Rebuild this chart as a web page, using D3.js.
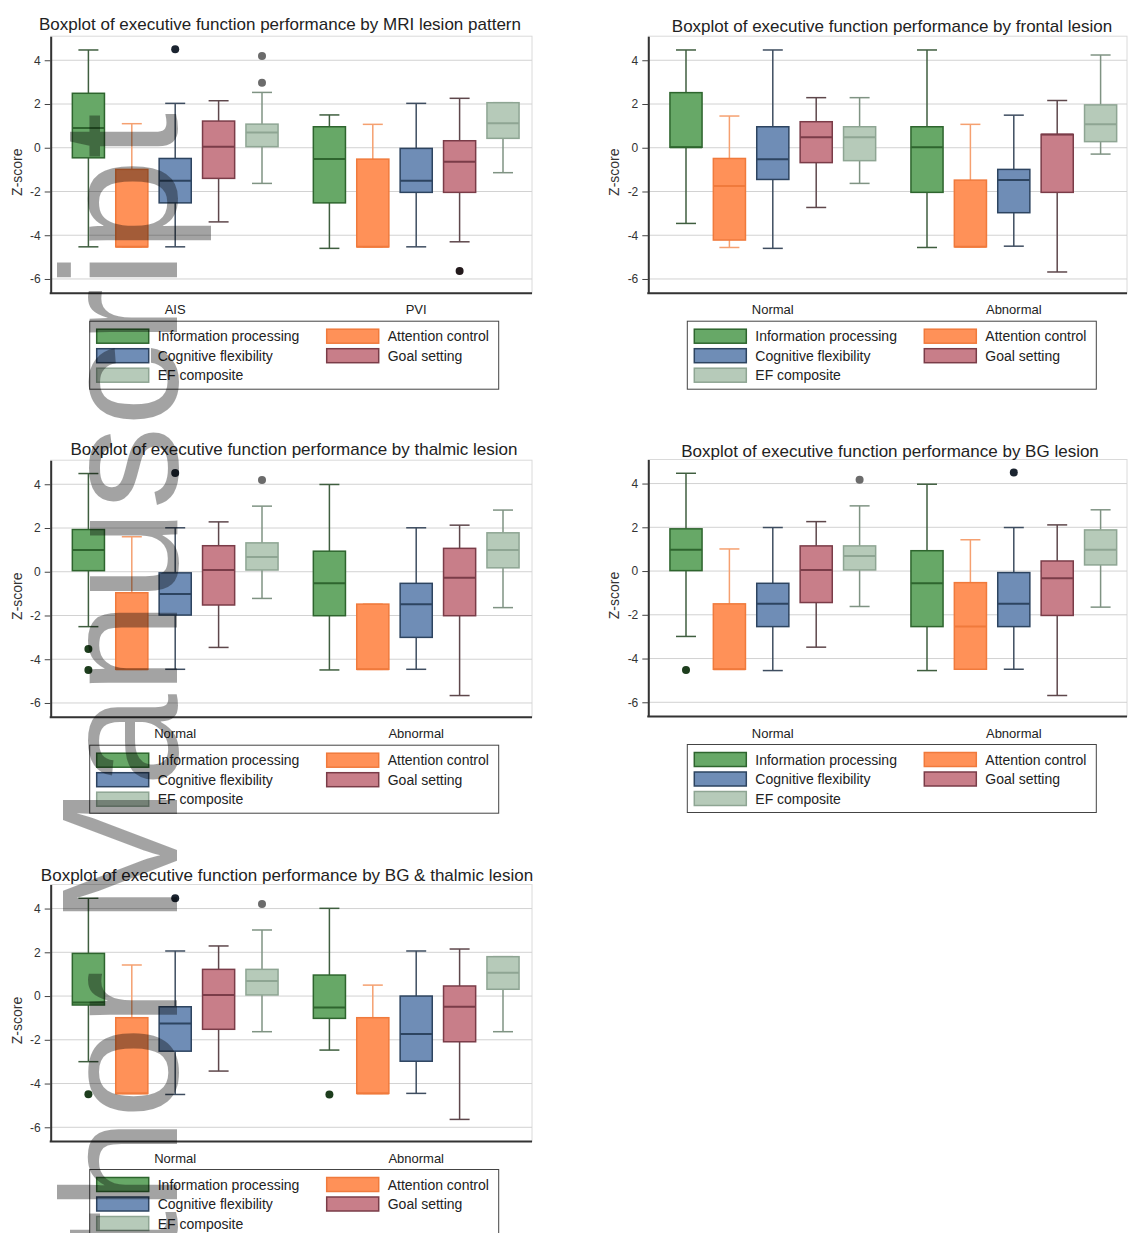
<!DOCTYPE html>
<html lang="en">
<head>
  <meta charset="UTF-8" />
  <title>Boxplots of executive function performance</title>
  <script src="https://d3js.org/d3.v7.min.js"></script>
  <style>
    body { margin: 0; background: #fff; }
    svg { display: block; font-family: "Liberation Sans", Arial, sans-serif; }
  </style>
</head>
<body>
  <script>
    // EF domains (legend order)
    const seriesNames = ["Information processing", "Attention control", "Cognitive flexibility", "Goal setting", "EF composite"];
    const yTicks = [-6, -4, -2, 0, 2, 4];

    // each box row: [category, series index, lower whisker, Q1, median, Q3, upper whisker]
    const mriCats = ["AIS", "PVI"];
    const mriBoxes = [
      ["AIS", 0, -4.53, -0.46, 0.90, 2.49, 4.47],
      ["AIS", 1, -4.53, -4.53, -4.53, -0.99, 1.10],
      ["AIS", 2, -4.53, -2.52, -1.51, -0.49, 2.03],
      ["AIS", 3, -3.39, -1.40, 0.05, 1.22, 2.15],
      ["AIS", 4, -1.63, 0.05, 0.70, 1.08, 2.53],
      ["PVI", 0, -4.60, -2.52, -0.52, 0.96, 1.50],
      ["PVI", 1, -4.53, -4.53, -4.53, -0.52, 1.07],
      ["PVI", 2, -4.53, -2.04, -1.51, -0.03, 2.03],
      ["PVI", 3, -4.30, -2.04, -0.64, 0.32, 2.26],
      ["PVI", 4, -1.14, 0.43, 1.12, 2.06, 2.06]
    ];
    const mriOutliers = [["AIS", 2, 4.50], ["AIS", 4, 4.20], ["AIS", 4, 2.97], ["PVI", 3, -5.64]];

    const frontalCats = ["Normal", "Abnormal"];
    const frontalBoxes = [
      ["Normal", 0, -3.46, 0.02, 0.02, 2.52, 4.47],
      ["Normal", 1, -4.56, -4.22, -1.75, -0.49, 1.45],
      ["Normal", 2, -4.60, -1.45, -0.53, 0.96, 4.47],
      ["Normal", 3, -2.73, -0.68, 0.48, 1.19, 2.29],
      ["Normal", 4, -1.63, -0.59, 0.48, 0.96, 2.29],
      ["Abnormal", 0, -4.56, -2.04, 0.02, 0.96, 4.47],
      ["Abnormal", 1, -4.53, -4.53, -4.53, -1.48, 1.07],
      ["Abnormal", 2, -4.50, -2.97, -1.48, -0.99, 1.49],
      ["Abnormal", 3, -5.68, -2.04, 0.61, 0.61, 2.16],
      ["Abnormal", 4, -0.29, 0.28, 1.07, 1.96, 4.24]
    ];
    const frontalOutliers = [];

    const thalCats = ["Normal", "Abnormal"];
    const thalBoxes = [
      ["Normal", 0, -2.51, 0.05, 0.99, 1.93, 4.49],
      ["Normal", 1, -4.46, -4.46, -4.46, -0.96, 1.60],
      ["Normal", 2, -4.46, -1.98, -1.02, -0.05, 2.01],
      ["Normal", 3, -3.46, -1.52, 0.08, 1.19, 2.28],
      ["Normal", 4, -1.22, 0.08, 0.68, 1.32, 3.00],
      ["Abnormal", 0, -4.49, -2.01, -0.53, 0.94, 3.99],
      ["Abnormal", 1, -4.46, -4.46, -4.46, -1.48, -1.48],
      ["Abnormal", 2, -4.46, -3.00, -1.49, -0.53, 2.01],
      ["Abnormal", 3, -5.66, -2.01, -0.27, 1.07, 2.13],
      ["Abnormal", 4, -1.64, 0.18, 0.99, 1.78, 2.82]
    ];
    const thalOutliers = [["Normal", 0, -3.53], ["Normal", 0, -4.49], ["Normal", 2, 4.52], ["Normal", 4, 4.19]];

    const bgCats = ["Normal", "Abnormal"];
    const bgBoxes = [
      ["Normal", 0, -2.99, 0.02, 0.97, 1.93, 4.47],
      ["Normal", 1, -4.49, -4.49, -4.49, -1.50, 1.01],
      ["Normal", 2, -4.55, -2.54, -1.50, -0.56, 1.99],
      ["Normal", 3, -3.48, -1.44, 0.05, 1.15, 2.26],
      ["Normal", 4, -1.62, 0.05, 0.69, 1.15, 2.98],
      ["Abnormal", 0, -4.55, -2.54, -0.56, 0.93, 3.97],
      ["Abnormal", 1, -4.49, -4.49, -2.54, -0.53, 1.43],
      ["Abnormal", 2, -4.49, -2.54, -1.50, -0.07, 1.99],
      ["Abnormal", 3, -5.69, -2.03, -0.33, 0.46, 2.11],
      ["Abnormal", 4, -1.65, 0.28, 0.97, 1.88, 2.80]
    ];
    const bgOutliers = [["Normal", 0, -4.52], ["Normal", 4, 4.17], ["Abnormal", 2, 4.51]];

    const bgThalCats = ["Normal", "Abnormal"];
    const bgThalBoxes = [
      ["Normal", 0, -3.00, -0.41, -0.30, 1.95, 4.47],
      ["Normal", 1, -4.45, -4.45, -4.45, -0.99, 1.42],
      ["Normal", 2, -4.50, -2.52, -1.25, -0.49, 2.06],
      ["Normal", 3, -3.43, -1.52, 0.05, 1.22, 2.29],
      ["Normal", 4, -1.63, 0.05, 0.69, 1.22, 3.02],
      ["Abnormal", 0, -2.47, -1.02, -0.52, 0.96, 4.01],
      ["Abnormal", 1, -4.45, -4.45, -4.45, -0.99, 0.50],
      ["Abnormal", 2, -4.45, -2.98, -1.74, 0.00, 2.06],
      ["Abnormal", 3, -5.64, -2.09, -0.49, 0.46, 2.15],
      ["Abnormal", 4, -1.63, 0.31, 1.07, 1.80, 1.80]
    ];
    const bgThalOutliers = [["Normal", 0, -4.49], ["Normal", 2, 4.47], ["Normal", 4, 4.21], ["Abnormal", 0, -4.50]];

    // colours per series
    const fillColors = ["#67a867", "#ff9158", "#6f8db6", "#c87e89", "#b6cab9"];
    const edgeColors = ["#2e652e", "#f07a3c", "#2d4460", "#7a3c48", "#8ea593"];
    const whiskerColors = ["#3f5e3f", "#f5a070", "#3e4d60", "#5e474b", "#7f9383"];
    const outlierColors = ["#1d3d1d", "#333333", "#1b2430", "#231a1c", "#6b6b6b"];

    const W = 1128, H = 1233;
    const plotH = 257;
    const svg = d3.select("body").append("svg")
      .attr("width", W)
      .attr("height", H);

    svg.append("rect").attr("width", W).attr("height", H).attr("fill", "#fff");

    const panels = [
      { title: "Boxplot of executive function performance by MRI lesion pattern", cats: mriCats, boxes: mriBoxes, outliers: mriOutliers,
        left: 50.7, right: 532, top: 36.2, titleX: 280, titleY: 30 },
      { title: "Boxplot of executive function performance by frontal lesion", cats: frontalCats, boxes: frontalBoxes, outliers: frontalOutliers,
        left: 648.3, right: 1127, top: 36.2, titleX: 892, titleY: 32 },
      { title: "Boxplot of executive function performance by thalmic lesion", cats: thalCats, boxes: thalBoxes, outliers: thalOutliers,
        left: 50.7, right: 532, top: 460.2, titleX: 294, titleY: 455 },
      { title: "Boxplot of executive function performance by BG lesion", cats: bgCats, boxes: bgBoxes, outliers: bgOutliers,
        left: 648.3, right: 1127, top: 459.5, titleX: 890, titleY: 457 },
      { title: "Boxplot of executive function performance by BG & thalmic lesion", cats: bgThalCats, boxes: bgThalBoxes, outliers: bgThalOutliers,
        left: 50.7, right: 532, top: 884.5, titleX: 287, titleY: 881 }
    ];

    panels.forEach(drawPanel);

    function drawPanel(p) {
      const g = svg.append("g");
      const bottom = p.top + plotH;

      const y = d3.scaleLinear().domain([-6.65, 5.1]).range([bottom, p.top]);
      const x = d3.scaleBand().domain(p.cats).range([p.left + 4, p.left + 486]).padding(0);
      const xs = d3.scaleBand().domain(d3.range(seriesNames.length))
        .range([-108.5, 108.5]).paddingInner(0.26).paddingOuter(0.13);
      const bw = xs.bandwidth();
      const cx = (cat, s) => x(cat) + x.bandwidth() / 2 + xs(s) + bw / 2;

      // frame + grid
      g.append("rect")
        .attr("x", p.left).attr("y", p.top)
        .attr("width", p.right - p.left).attr("height", plotH)
        .attr("fill", "none").attr("stroke", "#dadada");

      g.selectAll(".grid").data(yTicks).join("line")
        .attr("x1", p.left).attr("x2", p.right)
        .attr("y1", d => y(d)).attr("y2", d => y(d))
        .attr("stroke", "#d2d2d2").attr("stroke-width", 1);

      // boxes
      const box = g.selectAll(".box").data(p.boxes).join("g").attr("class", "box");
      box.each(function(d) {
        const b = d3.select(this);
        const [cat, s, lo, q1, med, q3, hi] = d;
        const c = cx(cat, s);
        const capW = 20;

        // whiskers
        if (hi > q3) {
          b.append("line").attr("x1", c).attr("x2", c).attr("y1", y(q3)).attr("y2", y(hi))
            .attr("stroke", whiskerColors[s]).attr("stroke-width", 1.5);
        }
        if (lo < q1) {
          b.append("line").attr("x1", c).attr("x2", c).attr("y1", y(q1)).attr("y2", y(lo))
            .attr("stroke", whiskerColors[s]).attr("stroke-width", 1.5);
        }
        [lo, hi].forEach(v => {
          b.append("line").attr("x1", c - capW / 2).attr("x2", c + capW / 2)
            .attr("y1", y(v)).attr("y2", y(v))
            .attr("stroke", whiskerColors[s]).attr("stroke-width", 1.5);
        });

        b.append("rect")
          .attr("x", c - bw / 2).attr("width", bw)
          .attr("y", y(q3)).attr("height", y(q1) - y(q3))
          .attr("fill", fillColors[s])
          .attr("stroke", edgeColors[s]).attr("stroke-width", 1.5);

        b.append("line").attr("x1", c - bw / 2).attr("x2", c + bw / 2)
          .attr("y1", y(med)).attr("y2", y(med))
          .attr("stroke", edgeColors[s]).attr("stroke-width", 2);
      });

      g.selectAll(".outlier").data(p.outliers).join("circle")
        .attr("cx", d => cx(d[0], d[1]))
        .attr("cy", d => y(d[2]))
        .attr("r", 4)
        .attr("fill", d => outlierColors[d[1]]);

      // y axis
      const ax = g.append("g")
        .attr("transform", `translate(${p.left},0)`)
        .call(d3.axisLeft(y).tickValues(yTicks).tickSize(6).tickSizeOuter(0).tickPadding(4).tickFormat(d => String(d)))
        .attr("font-size", 12)
        .attr("font-family", "Liberation Sans, Arial, sans-serif");
      ax.select(".domain").attr("stroke", "#333").attr("stroke-width", 2);
      ax.selectAll(".tick line").attr("stroke", "#444");
      ax.selectAll(".tick text").attr("fill", "#333");

      // x axis line
      g.append("line")
        .attr("x1", p.left - 1).attr("x2", p.right)
        .attr("y1", bottom).attr("y2", bottom)
        .attr("stroke", "#333").attr("stroke-width", 2);

      g.selectAll(".cat").data(p.cats).join("text")
        .attr("x", d => x(d) + x.bandwidth() / 2)
        .attr("y", bottom + 21)
        .attr("text-anchor", "middle")
        .attr("font-size", 13)
        .attr("fill", "#222")
        .text(d => d);

      // y axis title
      g.append("text")
        .attr("transform", `translate(${p.left - 29},${p.top + 136}) rotate(-90)`)
        .attr("text-anchor", "middle")
        .attr("font-size", 14)
        .attr("fill", "#333")
        .text("Z-score");

      // title
      g.append("text")
        .attr("x", p.titleX).attr("y", p.titleY)
        .attr("text-anchor", "middle")
        .attr("font-size", 17)
        .attr("fill", "#222")
        .text(p.title);

      // legend
      const lx = p.left + 39, ly = bottom + 28;
      const lg = g.append("g").attr("transform", `translate(${lx},${ly})`);
      lg.append("rect")
        .attr("width", 409).attr("height", 68)
        .attr("fill", "#fff").attr("stroke", "#444").attr("stroke-width", 1);
      const item = lg.selectAll(".item").data(seriesNames).join("g")
        .attr("transform", (d, i) => `translate(${(i % 2) * 230},${Math.floor(i / 2) * 19.5})`);
      item.append("rect")
        .attr("x", 7).attr("y", 8)
        .attr("width", 52).attr("height", 14)
        .attr("fill", (d, i) => fillColors[i])
        .attr("stroke", (d, i) => edgeColors[i]).attr("stroke-width", 1.5);
      item.append("text")
        .attr("x", 68).attr("y", 20)
        .attr("font-size", 14)
        .attr("fill", "#222")
        .text(d => d);
    }

    // manuscript watermark running up the left side
    svg.append("text")
      .attr("transform", "translate(177,1460) rotate(-90)")
      .attr("font-size", 166)
      .attr("font-family", "Liberation Sans, Arial, sans-serif")
      .attr("fill", "#000")
      .attr("fill-opacity", 0.36)
      .text("Author Manuscript");
  </script>
</body>
</html>
